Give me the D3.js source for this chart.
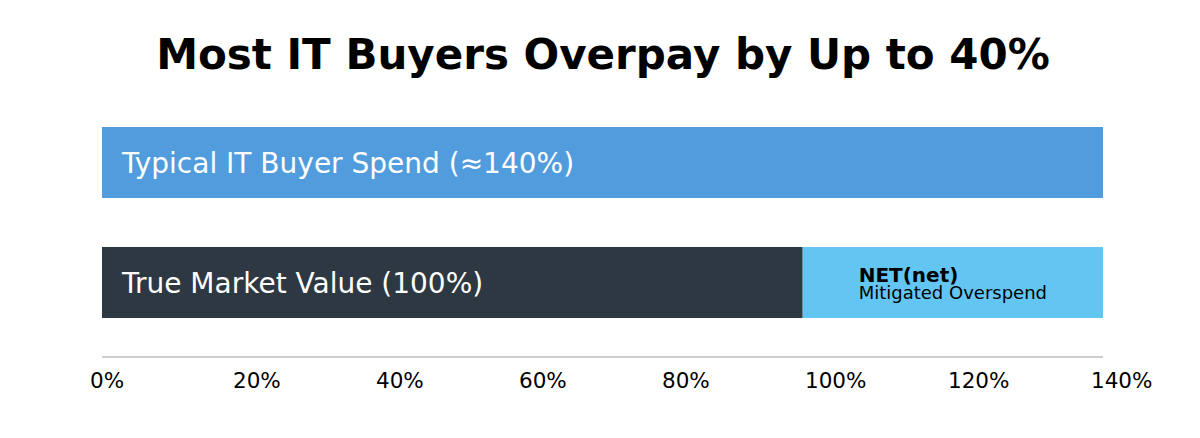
<!DOCTYPE html>
<html>
<head>
<meta charset="utf-8">
<script src="https://cdn.jsdelivr.net/npm/d3@7"></script>
<style>
  html, body { margin: 0; padding: 0; background: #ffffff; }
  svg { display: block; font-family: "DejaVu Sans", sans-serif; }
</style>
</head>
<body>
<svg id="chart" width="1200" height="438"></svg>
<script>
// ---- data ----
const title = "Most IT Buyers Overpay by Up to 40%";
const rows = ["typical", "true"];
const typicalLabel = "Typical IT Buyer Spend (\u2248140%)";
const typicalValues = [140];
const trueLabel = "True Market Value (100%)";
const trueValues = [98, 42];          // dark segment, overspend segment (as drawn)
const overspendTitle = "NET(net)";
const overspendSub = "Mitigated Overspend";
const tickValues = [0, 20, 40, 60, 80, 100, 120, 140];
const tickLabels = ["0%", "20%", "40%", "60%", "80%", "100%", "120%", "140%"];

// ---- layout ----
const svg = d3.select("#chart");
const x = d3.scaleLinear().domain([0, 140]).range([102, 1103]);
const y = d3.scaleBand().domain(rows).range([127, 318]).paddingInner(0.4083).paddingOuter(0);

svg.append("text")
  .attr("x", 603).attr("y", 69)
  .attr("text-anchor", "middle")
  .attr("font-weight", "bold")
  .attr("font-size", 42)
  .attr("fill", "#000")
  .text(title);

// Typical bar
svg.append("rect")
  .attr("x", x(0)).attr("y", y("typical"))
  .attr("width", x(typicalValues[0]) - x(0))
  .attr("height", y.bandwidth())
  .attr("fill", "#519cdc");
svg.append("text")
  .attr("x", x(0) + 20)
  .attr("y", y("typical") + y.bandwidth() / 2)
  .attr("dy", "0.37em")
  .attr("font-size", 28)
  .attr("fill", "#ffffff")
  .text(typicalLabel);

// True market value stacked bar
const segColors = ["#2e3842", "#63c6f2"];
let acc = 0;
const segs = trueValues.map((v, i) => { const s = { x0: acc, x1: acc + v, i }; acc += v; return s; });
svg.selectAll("rect.seg").data(segs).enter().append("rect")
  .attr("class", "seg")
  .attr("x", d => x(d.x0)).attr("y", y("true"))
  .attr("width", d => x(d.x1) - x(d.x0))
  .attr("height", y.bandwidth())
  .attr("fill", d => segColors[d.i]);

svg.append("text")
  .attr("x", x(0) + 20)
  .attr("y", y("true") + y.bandwidth() / 2)
  .attr("dy", "0.37em")
  .attr("font-size", 28)
  .attr("fill", "#ffffff")
  .text(trueLabel);

// overspend label block, centered in segment
const seg2 = segs[1];
const g = svg.append("g");
const t1 = g.append("text")
  .attr("y", y("true") + y.bandwidth() / 2 - 0.5)
  .attr("font-size", 20).attr("font-weight", "bold").attr("fill", "#000")
  .text(overspendTitle);
const t2 = g.append("text")
  .attr("y", y("true") + y.bandwidth() / 2 + 16.5)
  .attr("font-size", 18).attr("fill", "#000")
  .text(overspendSub);
const w = Math.max(t1.node().getComputedTextLength(), t2.node().getComputedTextLength());
const cx = (x(seg2.x0) + x(seg2.x1)) / 2;
t1.attr("x", cx - w / 2);
t2.attr("x", cx - w / 2);

// axis
svg.append("line")
  .attr("x1", x(0)).attr("x2", x(140))
  .attr("y1", 357).attr("y2", 357)
  .attr("stroke", "#cccccc").attr("stroke-width", 2);

svg.selectAll("text.tick").data(tickValues).enter().append("text")
  .attr("class", "tick")
  .attr("x", d => x(d) - 12)
  .attr("y", 388)
  .attr("font-size", 21.5)
  .attr("fill", "#000")
  .text((d, i) => tickLabels[i]);
</script>
</body>
</html>
